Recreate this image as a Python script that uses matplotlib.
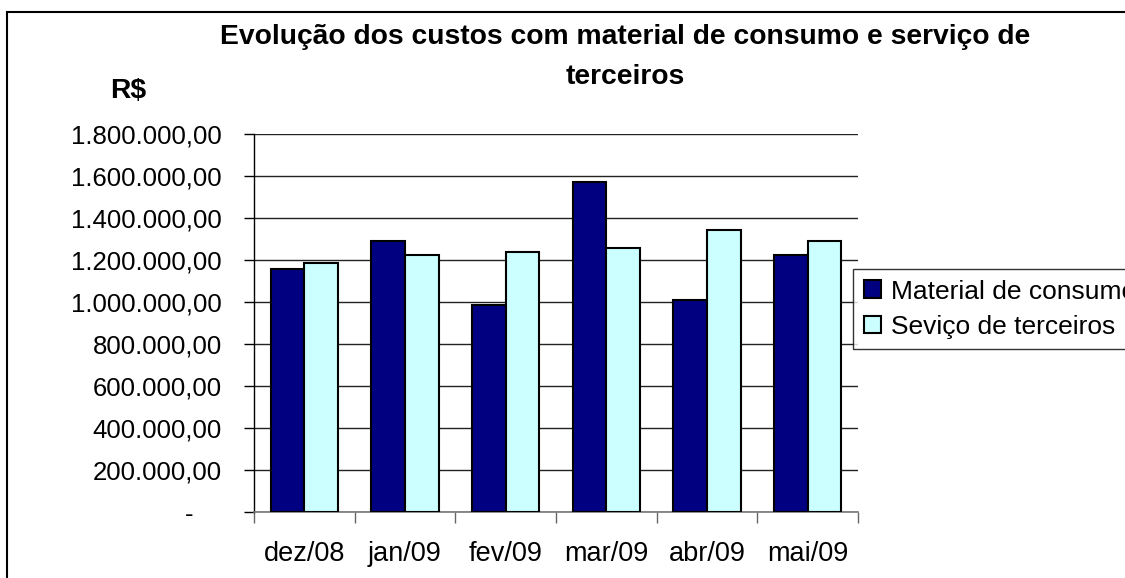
import matplotlib.pyplot as plt
from matplotlib.patches import Rectangle
from matplotlib.ticker import FuncFormatter, FixedLocator
import numpy as np

plt.rcParams['font.family'] = ['Liberation Sans', 'DejaVu Sans']

meses = ["dez/08", "jan/09", "fev/09", "mar/09", "abr/09", "mai/09"]
material = [1157000, 1292000, 986000, 1571000, 1010000, 1222000]
servico = [1187000, 1222000, 1240000, 1257000, 1341000, 1292000]
labels = ["Material de consumo", "Seviço de terceiros"]


def fmt_brl(v, pos):
    if v == 0:
        return "-    "
    s = f"{v:,.2f}"
    return s.replace(",", "X").replace(".", ",").replace("X", ".")


fig = plt.figure(figsize=(11.25, 5.78), dpi=100)
ax = fig.add_axes([254 / 1125, 1 - 512 / 578, (858 - 254) / 1125, (512 - 134) / 578])

x = np.arange(len(meses))
w = 1 / 3
b1 = ax.bar(x - w / 2, material, w, color="#000080", edgecolor="black", linewidth=1.5, label=labels[0], zorder=3)
b2 = ax.bar(x + w / 2, servico, w, color="#CCFFFF", edgecolor="black", linewidth=1.5, label=labels[1], zorder=3)

ax.set_xlim(-0.5, len(meses) - 0.5)
ax.set_ylim(0, 1800000)
ax.set_yticks(np.arange(0, 1800001, 200000))
ax.yaxis.set_major_formatter(FuncFormatter(fmt_brl))
ax.yaxis.grid(True, color="#222222", linewidth=1.0, zorder=0)
ax.tick_params(axis="y", length=7, width=1, labelsize=18.5, pad=16)

ax.set_xticks(x)
ax.set_xticklabels(meses)
ax.tick_params(axis="x", which="major", length=0, labelsize=19.5, pad=21)
ax.xaxis.set_minor_locator(FixedLocator(np.arange(-0.5, len(meses), 1)))
ax.tick_params(axis="x", which="minor", length=8, width=1, color="#666666")

for s in ["top", "right"]:
    ax.spines[s].set_visible(False)
ax.spines["left"].set_linewidth(1.0)
ax.spines["bottom"].set_color("#777777")
ax.spines["bottom"].set_linewidth(1.2)

fig.text(625 / 1125, 1 - 37 / 578, "Evolução dos custos com material de consumo e serviço de",
         ha="center", va="center", fontsize=20.3, fontweight="bold")
fig.text(625 / 1125, 1 - 77 / 578, "terceiros", ha="center", va="center", fontsize=20.3, fontweight="bold")
fig.text(128 / 1125, 1 - 91 / 578, "R$", ha="center", va="center", fontsize=20.3, fontweight="bold")

leg = fig.legend(handles=[b1, b2], loc="upper left", bbox_to_anchor=(853 / 1125, 1 - 269 / 578),
                 fontsize=19, frameon=True, fancybox=False, edgecolor="black",
                 handlelength=0.65, handleheight=0.65, handletextpad=0.4, borderpad=0.4,
                 labelspacing=0.42, borderaxespad=0)
leg.get_frame().set_linewidth(1.0)

fig.patches.append(Rectangle((7 / 1125, -0.05), 1.1, 1 - 12 / 578 + 0.05, transform=fig.transFigure,
                             fill=False, edgecolor="black", linewidth=1.5))

fig.savefig("out.png", dpi=100)
